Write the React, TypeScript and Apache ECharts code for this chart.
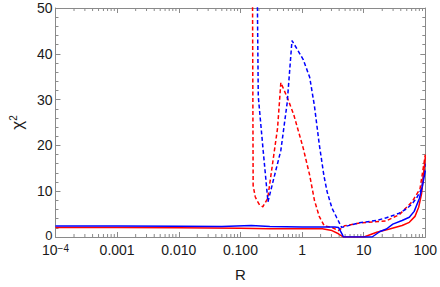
import React, { useEffect, useRef } from 'react';
import * as echarts from 'echarts';

// Tick labels of the log R axis (10^-4 ... 100)
const X_TICK_LABELS = ['10^-4', '0.001', '0.010', '0.100', '1', '10', '100'];
const X_MIN = 1e-4;
const X_MAX = 100;
const Y_MIN = 0;
const Y_MAX = 50;
const Y_INTERVAL = 10;

// [R, chi^2]
const redSolid: [number, number][] = [
  [1e-4, 2.1], [0.001, 2.1], [0.01, 2.0], [0.1, 1.9], [0.3, 1.8], [1, 1.8], [2.14, 1.8],
  [3.06, 1.4], [3.9, 0.7], [4.66, 0], [10.1, 0], [16.3, 1.05], [26.3, 1.75], [42, 2.5],
  [55, 3.2], [68, 4.5], [78, 6.5], [87, 9.5], [100, 17.5],
];
const blueSolid: [number, number][] = [
  [1e-4, 2.4], [0.001, 2.4], [0.01, 2.35], [0.05, 2.3], [0.15, 2.5], [0.3, 2.3], [1, 2.2],
  [3.4, 2.2], [3.9, 2.1], [4.4, 0.8], [4.7, 0], [13.7, 0], [18.4, 1.2], [23.4, 1.75],
  [29.7, 2.8], [42, 3.6], [55, 4.3], [66, 5.6], [80, 8.4], [90, 11.2], [100, 14.5],
];
const redDashed: [number, number][] = [
  [0.155, 80], [0.161, 11.2], [0.174, 8.8], [0.185, 8.0], [0.205, 7.0], [0.231, 6.6],
  [0.277, 8.4], [0.401, 23.8], [0.453, 33.7], [0.574, 30.5], [0.73, 26.8], [1.04, 19.5],
  [1.33, 13.5], [1.59, 8], [1.9, 4.5], [2.3, 2.4], [3.06, 2.1], [3.89, 1.4], [4.9, 2.45],
  [9, 3.1], [23, 3.5], [38, 4.9], [61, 7.7], [82, 10.5], [100, 18],
];
const blueDashed: [number, number][] = [
  [0.18, 80], [0.195, 30.7], [0.234, 18.9], [0.28, 7.7], [0.356, 13.3], [0.453, 18.9],
  [0.574, 29.3], [0.687, 42.9], [1.04, 38.8], [1.33, 34.9], [1.59, 28.6], [1.9, 20.3],
  [2.27, 13.3], [2.56, 9.8], [3.06, 6.3], [3.66, 4.2], [3.89, 3.5], [4.38, 2.1], [8.5, 3.1],
  [16, 3.6], [23.4, 4.2], [37.7, 5.2], [50, 6.2], [60.7, 7.2], [72, 8.5], [86.9, 10.5], [100, 16],
];

const RED = '#ff0000';
const BLUE = '#0000ff';
const FRAME = '#8a8a8a';
const TEXT = '#1a1a1a';
const FONT = '"Liberation Sans", Arial, sans-serif';
const TICK_FS = 14;

function minorLogTicks(): number[] {
  const out: number[] = [];
  for (let d = -4; d < 2; d++) {
    for (let m = 2; m <= 9; m++) out.push(m * Math.pow(10, d));
  }
  return out;
}

export default function App() {
  const ref = useRef<HTMLDivElement>(null);
  useEffect(() => {
    document.body.style.margin = '0';
    if (!ref.current) return;
    const chart = echarts.init(ref.current, undefined, { renderer: 'svg' });
    const tickFmt = (v: number) => {
      const i = Math.round(Math.log10(v)) + 4;
      const s = X_TICK_LABELS[i] ?? '';
      if (s.includes('^')) {
        const [b, e] = s.split('^');
        return `{b|${b}}{s|${e.replace('-', '−')}}`;
      }
      return `{b|${s}}`;
    };
    const yFmt = (v: number) => (v === Y_MIN ? `{z|${v}}` : `${v}`);
    const labelRich = {
      b: { fontSize: TICK_FS, fontFamily: FONT, color: TEXT, lineHeight: 14, verticalAlign: 'bottom' },
      s: { fontSize: 10, fontFamily: FONT, color: TEXT, lineHeight: 10, verticalAlign: 'top', padding: [0, 0, 4, 0] },
    };
    const baseX = {
      type: 'log' as const,
      logBase: 10,
      min: X_MIN,
      max: X_MAX,
      splitLine: { show: false },
      axisLine: { show: true, onZero: false, lineStyle: { color: FRAME, width: 1 } },
      axisTick: { show: true, inside: true, length: 5, lineStyle: { color: FRAME } },
    };
    const baseY = {
      type: 'value' as const,
      min: Y_MIN,
      max: Y_MAX,
      interval: Y_INTERVAL,
      splitLine: { show: false },
      axisLine: { show: true, onZero: false, lineStyle: { color: FRAME, width: 1 } },
      axisTick: { show: true, inside: true, length: 5, lineStyle: { color: FRAME } },
      minorTick: { show: true, splitNumber: 5, length: 3, lineStyle: { color: FRAME } },
    };
    const line = (name: string, data: [number, number][], color: string, dashed: boolean) => ({
      name,
      type: 'line',
      data,
      showSymbol: false,
      symbol: 'none',
      clip: true,
      lineStyle: { color, width: 1.5, type: dashed ? [4, 2.5] : 'solid' },
      itemStyle: { color },
    });
    chart.setOption({
      animation: false,
      grid: { left: 42, right: 13, top: 8, bottom: 40, containLabel: false },
      xAxis: [
        {
          ...baseX,
          position: 'bottom',
          axisLabel: { formatter: tickFmt, rich: labelRich, margin: 6, color: TEXT, fontSize: TICK_FS, fontFamily: FONT },
          name: 'R',
          nameLocation: 'middle',
          nameGap: 30,
          nameTextStyle: { fontSize: 15, fontFamily: FONT, color: TEXT },
        },
        { ...baseX, position: 'top', axisLabel: { show: false } },
      ],
      yAxis: [
        {
          ...baseY,
          position: 'left',
          axisLabel: {
            margin: 3,
            color: TEXT,
            fontSize: TICK_FS,
            fontFamily: FONT,
            formatter: yFmt,
            rich: { z: { fontSize: 13, fontFamily: FONT, color: TEXT, lineHeight: 12, padding: [0, 0, 4, 0] } },
          },
          name: '{c|χ}{s|2}',
          nameLocation: 'middle',
          nameGap: 17,
          nameRotate: 90,
          nameTextStyle: {
            rich: {
              c: { fontSize: 17, fontFamily: FONT, color: TEXT, lineHeight: 18, verticalAlign: 'bottom' },
              s: { fontSize: 10, fontFamily: FONT, color: TEXT, verticalAlign: 'top', padding: [0, 0, 8, 0] },
            },
          },
        },
        { ...baseY, position: 'right', axisLabel: { show: false } },
      ],
      series: [
        line('red dashed', redDashed, RED, true),
        line('blue dashed', blueDashed, BLUE, true),
        line('red solid', redSolid, RED, false),
        line('blue solid', blueSolid, BLUE, false),
        {
          type: 'custom',
          silent: true,
          clip: false,
          data: minorLogTicks().map((v) => [v, Y_MIN]),
          renderItem: (_p: any, api: any) => {
            const v = api.value(0);
            const b = api.coord([v, Y_MIN]);
            const t = api.coord([v, Y_MAX]);
            const st = { stroke: FRAME, lineWidth: 1 };
            return {
              type: 'group',
              children: [
                { type: 'line', shape: { x1: b[0], y1: b[1], x2: b[0], y2: b[1] - 3 }, style: st },
                { type: 'line', shape: { x1: t[0], y1: t[1], x2: t[0], y2: t[1] + 3 }, style: st },
              ],
            };
          },
        },
      ],
    });
    return () => chart.dispose();
  }, []);
  return <div ref={ref} style={{ width: 440, height: 287 }} />;
}
